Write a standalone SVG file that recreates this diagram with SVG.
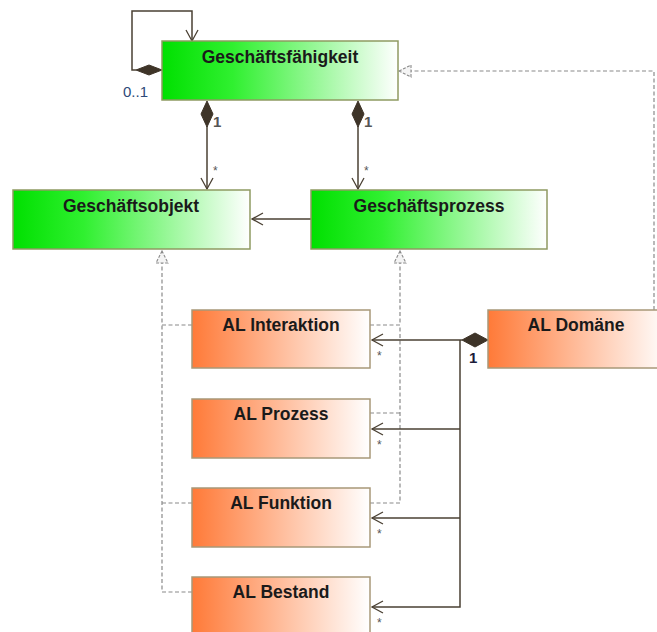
<svg xmlns="http://www.w3.org/2000/svg" width="657" height="632" viewBox="0 0 657 632">
  <style>
    .box { stroke-width: 1.5; }
    .green { fill: url(#gGreen); stroke: #8f9a62; }
    .orange { fill: url(#gOrange); stroke: #a89878; }
    .label { font-family: "Liberation Sans", Arial, sans-serif; font-weight: bold; font-size: 17.5px; fill: #1a1a1a; text-anchor: middle; }
    .assoc { fill: none; stroke: #4a4033; stroke-width: 1.5; }
    .real { fill: none; stroke: #8a8a8a; stroke-width: 1.2; stroke-dasharray: 4 2.5; }
    .open { fill: none; stroke: #4a4033; stroke-width: 1.3; }
    .diamond { fill: #3e3428; stroke: #3e3428; stroke-width: 1; }
    .tri { fill: #f4f4f4; stroke: #8a8a8a; stroke-width: 1.1; stroke-dasharray: 3 1.5; }
    .mult { font-family: "Liberation Sans", Arial, sans-serif; font-size: 15px; }
    .star { font-family: "Liberation Sans", Arial, sans-serif; font-size: 12px; fill: #555; }
  </style>
  <defs>
    <linearGradient id="gGreen" x1="0" y1="0" x2="1" y2="0">
      <stop offset="0" stop-color="#00e000"/>
      <stop offset="0.3" stop-color="#30f030"/>
      <stop offset="1" stop-color="#ffffff"/>
    </linearGradient>
    <linearGradient id="gOrange" x1="0" y1="0" x2="1" y2="0">
      <stop offset="0" stop-color="#ff7a38"/>
      <stop offset="1" stop-color="#ffffff"/>
    </linearGradient>
  </defs>

  <rect width="657" height="632" fill="#ffffff"/>

  <!-- connectors -->
  <g id="connectors">
    <!-- self association on Geschäftsfähigkeit -->
    <polyline class="assoc" points="136,70 132,70 132,11 192,11 192,41"/>
    <polyline class="open" points="186,30 192,41 198,30"/>
    <polygon class="diamond" points="162,70 149,65 136,70 149,75"/>

    <!-- Geschäftsfähigkeit composes Geschäftsobjekt -->
    <line class="assoc" x1="207" y1="126" x2="207" y2="189"/>
    <polygon class="diamond" points="207,101 201,114 207,127 213,114"/>
    <polyline class="open" points="201,178 207,189 213,178"/>

    <!-- Geschäftsfähigkeit composes Geschäftsprozess -->
    <line class="assoc" x1="358" y1="126" x2="358" y2="189"/>
    <polygon class="diamond" points="358,101 352,114 358,127 364,114"/>
    <polyline class="open" points="352,178 358,189 364,178"/>

    <!-- Geschäftsprozess to Geschäftsobjekt -->
    <line class="assoc" x1="311" y1="219" x2="252" y2="219"/>
    <polyline class="open" points="263,213 252,219 263,225"/>

    <!-- realizations toward Geschäftsobjekt -->
    <polyline class="real" points="192,325 162,325 162,262"/>
    <polyline class="real" points="192,503 162,503"/>
    <polyline class="real" points="192,592 162,592 162,325"/>
    <polygon class="tri" points="162,251 156,263 168,263"/>

    <!-- realizations toward Geschäftsprozess -->
    <polyline class="real" points="370,325 400,325 400,262"/>
    <polyline class="real" points="370,413 400,413"/>
    <polyline class="real" points="370,503 400,503 400,325"/>
    <polygon class="tri" points="400,251 394,263 406,263"/>

    <!-- AL Domäne realizes Geschäftsfähigkeit -->
    <polyline class="real" points="654,310 654,71 410,71"/>
    <polygon class="tri" points="399,71 411,65 411,77"/>

    <!-- AL Domäne composition to AL elements -->
    <polyline class="assoc" points="462,340 372,340"/>
    <polyline class="assoc" points="460,340 460,607 372,607"/>
    <line class="assoc" x1="460" y1="429" x2="372" y2="429"/>
    <line class="assoc" x1="460" y1="518" x2="372" y2="518"/>
    <polygon class="diamond" points="488,340 475,333 462,340 475,347"/>
    <polyline class="open" points="383,334 372,340 383,346"/>
    <polyline class="open" points="383,423 372,429 383,435"/>
    <polyline class="open" points="383,512 372,518 383,524"/>
    <polyline class="open" points="383,601 372,607 383,613"/>

    <!-- multiplicities -->
    <text class="mult" x="123" y="97" fill="#2d4a78">0..1</text>
    <text class="mult" x="213" y="127" fill="#555" font-weight="bold">1</text>
    <text class="mult" x="364" y="127" fill="#555" font-weight="bold">1</text>
    <text class="star" x="213" y="175">*</text>
    <text class="star" x="364" y="175">*</text>
    <text class="mult" x="469" y="363" fill="#1c1c3a" font-weight="bold">1</text>
    <text class="star" x="377" y="360">*</text>
    <text class="star" x="377" y="449">*</text>
    <text class="star" x="377" y="538">*</text>
    <text class="star" x="377" y="627">*</text>
  </g>

  <!-- nodes -->
  <g id="geschaeftsfaehigkeit">
    <rect class="box green" x="162" y="41" width="236" height="59"/>
    <text class="label" x="280" y="63">Geschäftsfähigkeit</text>
  </g>
  <g id="geschaeftsobjekt">
    <rect class="box green" x="13" y="190" width="237" height="59"/>
    <text class="label" x="131" y="212">Geschäftsobjekt</text>
  </g>
  <g id="geschaeftsprozess">
    <rect class="box green" x="311" y="190" width="236" height="59"/>
    <text class="label" x="429" y="212">Geschäftsprozess</text>
  </g>
  <g id="al-interaktion">
    <rect class="box orange" x="192" y="310" width="178" height="58"/>
    <text class="label" x="281" y="331">AL Interaktion</text>
  </g>
  <g id="al-domaene">
    <rect class="box orange" x="488" y="310" width="180" height="58"/>
    <text class="label" x="576" y="331">AL Domäne</text>
  </g>
  <g id="al-prozess">
    <rect class="box orange" x="192" y="399" width="178" height="59"/>
    <text class="label" x="281" y="420">AL Prozess</text>
  </g>
  <g id="al-funktion">
    <rect class="box orange" x="192" y="488" width="178" height="59"/>
    <text class="label" x="281" y="509">AL Funktion</text>
  </g>
  <g id="al-bestand">
    <rect class="box orange" x="192" y="577" width="178" height="70"/>
    <text class="label" x="281" y="598">AL Bestand</text>
  </g>
</svg>
